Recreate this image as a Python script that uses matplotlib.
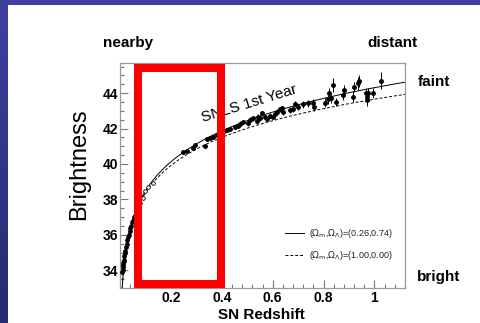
import numpy as np
import matplotlib.pyplot as plt
from matplotlib.colors import LinearSegmentedColormap
from matplotlib.patches import Rectangle
from matplotlib.ticker import MultipleLocator

plt.rcParams['font.family'] = ['Liberation Sans', 'DejaVu Sans']

# nearby supernovae (filled points)
z_low = [0.009, 0.010, 0.011, 0.012, 0.013, 0.014, 0.015, 0.017, 0.019, 0.021, 0.024,
         0.027, 0.029, 0.032, 0.035, 0.038, 0.041, 0.044, 0.047, 0.050, 0.054]
mu_low = [33.9, 34.2, 34.0, 34.4, 34.3, 34.6, 34.5, 34.8, 35.0, 35.1, 35.3,
          35.5, 35.7, 35.9, 36.0, 36.2, 36.4, 36.5, 36.7, 36.8, 37.0]

# intermediate points drawn as open circles
z_open = [0.079, 0.091, 0.098, 0.110, 0.130]
mu_open = [37.8, 38.1, 38.5, 38.7, 38.95]

# SNLS first year sample
z_snls = [0.248, 0.264, 0.287, 0.295, 0.335, 0.343, 0.354, 0.366, 0.382, 0.395,
          0.410, 0.421, 0.433, 0.453, 0.465, 0.472, 0.484, 0.504, 0.512, 0.524,
          0.539, 0.543, 0.551, 0.559, 0.571, 0.579, 0.591, 0.602, 0.610, 0.618,
          0.630, 0.638, 0.642, 0.669, 0.681, 0.689, 0.700, 0.720, 0.740, 0.760,
          0.762, 0.807, 0.819, 0.823, 0.831, 0.839, 0.850, 0.878, 0.882, 0.917,
          0.921, 0.937, 0.941, 0.965, 0.969, 0.972, 0.976, 0.996, 1.024]
mu_snls = [40.67, 40.75, 40.90, 41.05, 41.00, 41.40, 41.48, 41.55, 41.62, 41.75,
           41.85, 41.90, 41.98, 42.08, 42.15, 42.28, 42.35, 42.30, 42.50, 42.58,
           42.40, 42.68, 42.60, 42.85, 42.68, 42.55, 42.72, 42.68, 42.82, 42.95,
           43.08, 43.15, 42.92, 43.05, 43.10, 43.40, 43.20, 43.38, 43.42, 43.45,
           43.20, 43.45, 43.65, 44.00, 43.70, 44.45, 43.50, 43.90, 44.15, 43.80,
           44.35, 44.55, 44.70, 44.00, 43.60, 43.80, 44.00, 44.00, 44.70]
err_snls = [0.10, 0.10, 0.10, 0.10, 0.10, 0.10, 0.10, 0.10, 0.10, 0.12,
            0.12, 0.12, 0.12, 0.12, 0.12, 0.12, 0.12, 0.15, 0.15, 0.15,
            0.15, 0.15, 0.15, 0.15, 0.15, 0.15, 0.15, 0.15, 0.15, 0.15,
            0.15, 0.15, 0.15, 0.18, 0.18, 0.18, 0.18, 0.20, 0.20, 0.20,
            0.20, 0.25, 0.25, 0.30, 0.25, 0.38, 0.25, 0.30, 0.30, 0.30,
            0.30, 0.38, 0.35, 0.30, 0.30, 0.30, 0.30, 0.30, 0.47]

# cosmologies from the legend
omega_m = [0.26, 1.00]
omega_l = [0.74, 0.00]
model_styles = ['-', (0, (3, 2))]
hubble_dist = 4600.0  # c/H0 in Mpc

x_ticks = [0.2, 0.4, 0.6, 0.8, 1.0]
x_tick_labels = ['0.2', '0.4', '0.6', '0.8', '1']
y_ticks = [34, 36, 38, 40, 42, 44]


def distance_modulus(z, om, ol):
    """luminosity distance modulus for a FRW model"""
    ok = 1.0 - om - ol
    inv_e = 1.0 / np.sqrt(om * (1 + z) ** 3 + ok * (1 + z) ** 2 + ol)
    dc = np.concatenate([[0.0], np.cumsum(0.5 * (inv_e[1:] + inv_e[:-1]) * np.diff(z))])
    dl = (1 + z[1:]) * dc[1:] * hubble_dist
    return 5 * np.log10(dl) + 25


fig = plt.figure(figsize=(4.8, 3.23), dpi=100)
fig.patch.set_facecolor('white')

# blue slide frame (top band + left gradient band)
fig.add_artist(Rectangle((0, 1 - 5 / 323), 1, 5 / 323, transform=fig.transFigure,
                         facecolor='#3d409e', edgecolor='none'))
ax_band = fig.add_axes([0, 0, 8 / 480, 1])
ax_band.imshow(np.linspace(0, 1, 100).reshape(-1, 1), aspect='auto',
               cmap=LinearSegmentedColormap.from_list('band', ['#3e41a0', '#262a70']))
ax_band.axis('off')

ax = fig.add_axes([120 / 480, 35 / 323, 285 / 480, 225 / 323])

z_grid = np.linspace(0, 1.12, 800)
for om, ol, ls in zip(omega_m, omega_l, model_styles):
    ax.plot(z_grid[1:], distance_modulus(z_grid, om, ol), color='black', lw=0.7, ls=ls,
            label=r'($\Omega_{\rm m}$,$\Omega_\Lambda$)=(%.2f,%.2f)' % (om, ol))

ax.plot(z_low, mu_low, 'o', ms=2.4, color='black', zorder=3)
ax.plot(z_open, mu_open, 'o', ms=2.6, mfc='white', mec='black', mew=0.6, zorder=3)
ax.errorbar(z_snls, mu_snls, yerr=err_snls, fmt='o', ms=2.5, color='black',
            elinewidth=0.7, capsize=0, zorder=3)

ax.text(0.506, 43.38, 'SNLS 1st Year', rotation=17, fontsize=11, ha='center', va='center',
        rotation_mode='anchor')

ax.set_xlim(0, 1.12)
ax.set_ylim(33, 45.7)
ax.set_xticks(x_ticks, labels=x_tick_labels)
ax.set_yticks(y_ticks)
ax.xaxis.set_minor_locator(MultipleLocator(0.04))
ax.yaxis.set_minor_locator(MultipleLocator(0.5))
ax.tick_params(which='both', direction='in', color='#777777', width=0.8,
               labelsize=10, top=False, right=False)
ax.tick_params(which='major', length=6)
ax.tick_params(which='minor', length=3)
ax.tick_params(axis='x', pad=2.5)
ax.tick_params(axis='y', pad=1)
for lab in ax.get_xticklabels() + ax.get_yticklabels():
    lab.set_fontweight('bold')
for sp in ax.spines.values():
    sp.set_color('#999999')
    sp.set_linewidth(0.9)

leg = ax.legend(loc='lower right', bbox_to_anchor=(0.985, 0.08), frameon=False, fontsize=6.5,
                handlelength=2.2, handletextpad=0.5, labelspacing=1.0)
for t in leg.get_texts():
    t.set_color('#222222')

# red highlight box over the low redshift region
ax.add_patch(Rectangle((0.071, 33.21), 0.327, 12.23, fill=False, edgecolor='#ff0000',
                       lw=5.8, clip_on=False, zorder=6))

fig.text(79 / 480, 1 - 164 / 323, 'Brightness', rotation=90, fontsize=17, ha='center', va='center')
fig.text(261 / 480, 1 - 319 / 323, 'SN Redshift', fontsize=11, weight='bold', ha='center', va='baseline')
fig.text(128 / 480, 1 - 43 / 323, 'nearby', fontsize=11, weight='bold', ha='center', va='center')
fig.text(392 / 480, 1 - 43 / 323, 'distant', fontsize=11, weight='bold', ha='center', va='center')
fig.text(434 / 480, 1 - 82 / 323, 'faint', fontsize=11, weight='bold', ha='center', va='center')
fig.text(439 / 480, 1 - 277 / 323, 'bright', fontsize=11, weight='bold', ha='center', va='center')

fig.savefig('out.png', dpi=100)
